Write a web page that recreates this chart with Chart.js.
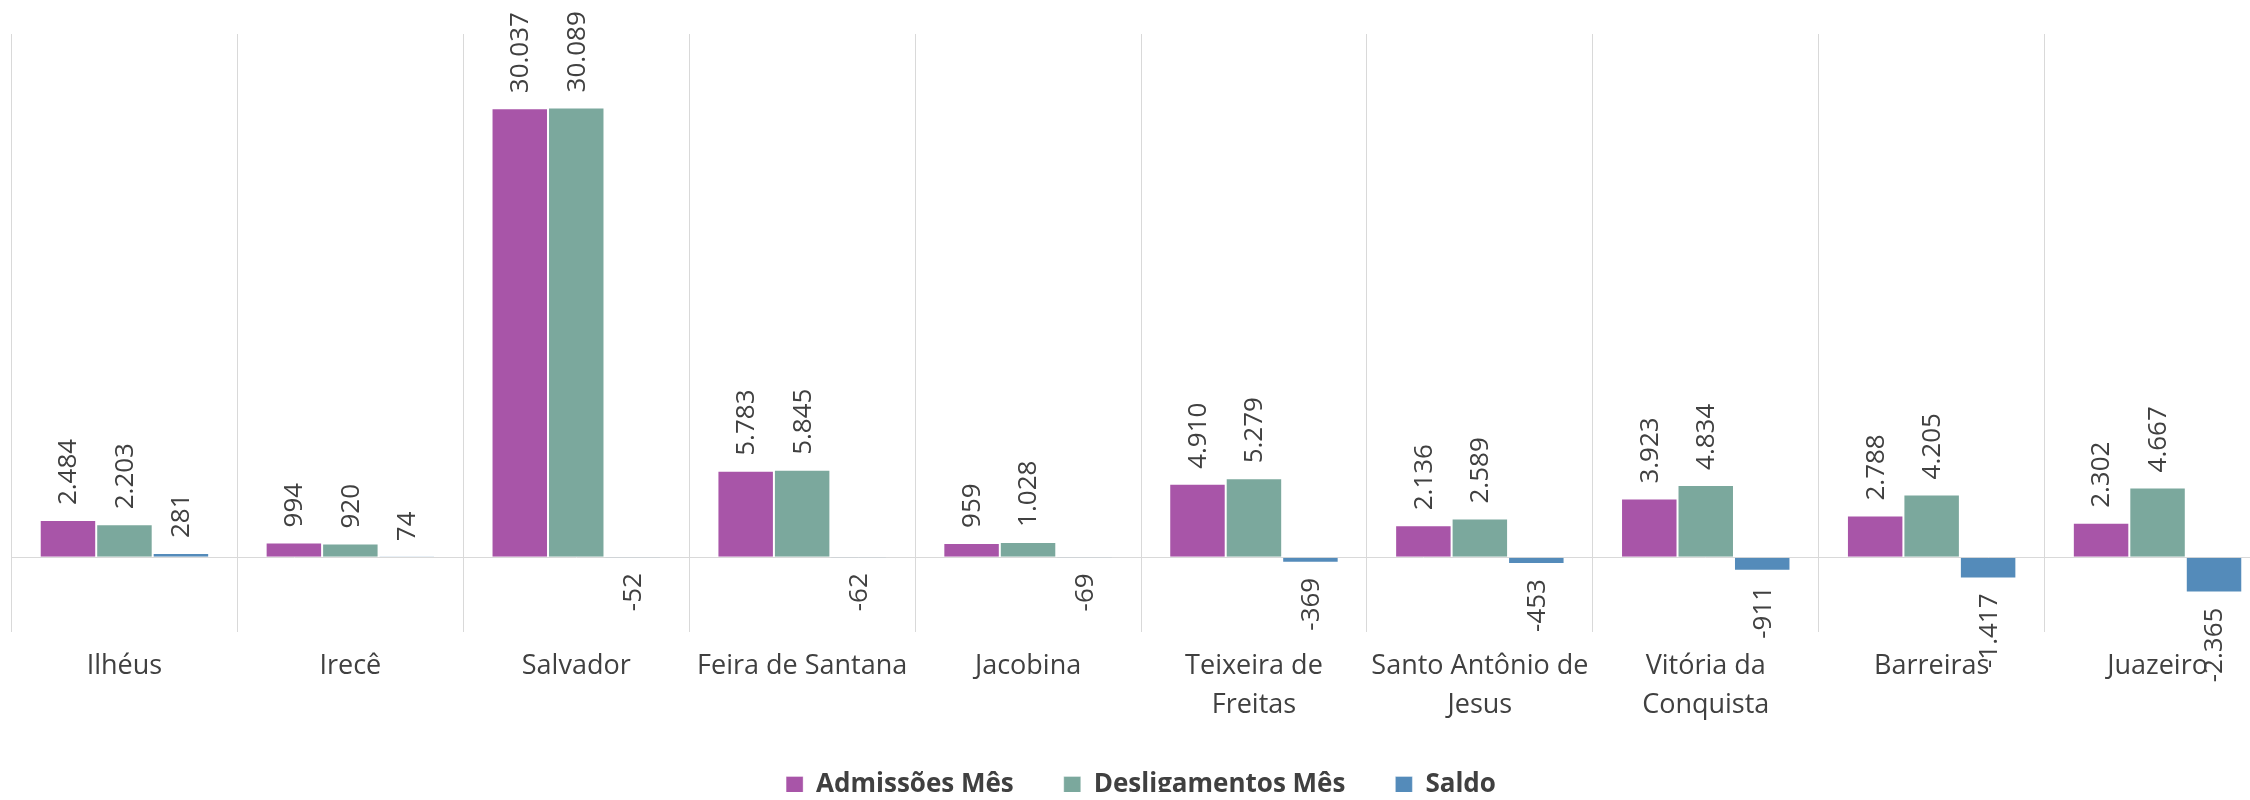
<!DOCTYPE html>
<html lang="pt-BR">
<head>
    <meta charset="UTF-8">
    <title>Admissões e Desligamentos por Município</title>
    <script src="https://cdn.jsdelivr.net/npm/chart.js@4.4.1/dist/chart.umd.min.js"></script>
    <style>
        body {
            margin: 0;
            background: #ffffff;
            overflow: hidden;
        }
        .chart-box {
            width: 2272px;
            height: 800px;
        }
    </style>
</head>
<body>
    <div class="chart-box">
        <canvas id="cagedChart"></canvas>
    </div>

    <script>
        const municipios = [
            'Ilhéus', 'Irecê', 'Salvador', 'Feira de Santana', 'Jacobina',
            ['Teixeira de', 'Freitas'], ['Santo Antônio de', 'Jesus'],
            ['Vitória da', 'Conquista'], 'Barreiras', 'Juazeiro'
        ];
        const admissoes = [2484, 994, 30037, 5783, 959, 4910, 2136, 3923, 2788, 2302];
        const desligamentos = [2203, 920, 30089, 5845, 1028, 5279, 2589, 4834, 4205, 4667];
        const saldo = [281, 74, -52, -62, -69, -369, -453, -911, -1417, -2365];

        const textColor = '#404040';
        const gridColor = '#d9d9d9';

        // formato brasileiro: 30.037
        function fmt(v) {
            const s = String(Math.abs(v)).replace(/\B(?=(\d{3})+(?!\d))/g, '.');
            return (v < 0 ? '-' : '') + s;
        }

        // rótulos de dados girados 90°, como no Excel
        const rotatedLabels = {
            id: 'rotatedLabels',
            afterDatasetsDraw(chart) {
                const ctx = chart.ctx;
                ctx.save();
                ctx.font = '26px "Open Sans"';
                ctx.fillStyle = textColor;
                ctx.textBaseline = 'middle';
                chart.data.datasets.forEach((ds, i) => {
                    const meta = chart.getDatasetMeta(i);
                    meta.data.forEach((bar, j) => {
                        const v = ds.data[j];
                        const gap = 15;
                        ctx.save();
                        if (v >= 0) {
                            ctx.translate(bar.x + 1, bar.y - gap);
                            ctx.rotate(-Math.PI / 2);
                            ctx.textAlign = 'left';
                        } else {
                            ctx.translate(bar.x + 1, bar.y + gap);
                            ctx.rotate(-Math.PI / 2);
                            ctx.textAlign = 'right';
                        }
                        ctx.fillText(fmt(v), 0, 0);
                        ctx.restore();
                    });
                });
                ctx.restore();
            }
        };

        // legenda com altura fixa, para a área do gráfico descer até onde está no original
        const legendHeight = {
            id: 'legendHeight',
            beforeLayout(chart) {
                const lg = chart.legend;
                if (lg && !lg._fixedFit) {
                    const fit = lg.fit;
                    lg.fit = function () {
                        fit.call(this);
                        this.height = 70;
                    };
                    lg._fixedFit = true;
                }
            }
        };

        Chart.defaults.font.family = '"Open Sans", sans-serif';
        Chart.defaults.color = textColor;

        const ctx = document.getElementById('cagedChart').getContext('2d');
        new Chart(ctx, {
            type: 'bar',
            data: {
                labels: municipios,
                datasets: [{
                    label: 'Admissões Mês',
                    data: admissoes,
                    backgroundColor: '#a855a8',
                    borderColor: 'rgba(255,255,255,0.35)',
                    borderWidth: 1
                }, {
                    label: 'Desligamentos Mês',
                    data: desligamentos,
                    backgroundColor: '#7ba89d',
                    borderColor: 'rgba(255,255,255,0.35)',
                    borderWidth: 1
                }, {
                    label: 'Saldo',
                    data: saldo,
                    backgroundColor: '#548bba',
                    borderColor: 'rgba(255,255,255,0.35)',
                    borderWidth: 1
                }]
            },
            options: {
                responsive: true,
                maintainAspectRatio: false,
                animation: false,
                categoryPercentage: 0.75,
                barPercentage: 1.0,
                layout: {
                    padding: { top: 34, left: 11.5, right: 1.5, bottom: 8 }
                },
                plugins: {
                    legend: {
                        position: 'bottom',
                        labels: {
                            boxWidth: 17,
                            boxHeight: 17,
                            padding: 50,
                            color: textColor,
                            font: { size: 26, weight: 'bold' }
                        }
                    },
                    tooltip: { enabled: false }
                },
                scales: {
                    x: {
                        afterFit(scale) { scale.height = 90; },
                        grid: {
                            color: gridColor,
                            drawTicks: false
                        },
                        border: { display: false },
                        ticks: {
                            color: textColor,
                            font: { size: 27, lineHeight: 1.45 },
                            padding: 15,
                            maxRotation: 0,
                            minRotation: 0,
                            autoSkip: false
                        }
                    },
                    y: {
                        min: -5000,
                        max: 35000,
                        afterFit(scale) { scale.width = 0; },
                        grid: {
                            drawTicks: false,
                            color: c => c.tick && c.tick.value === 0 ? gridColor : 'rgba(0,0,0,0)'
                        },
                        border: { display: false },
                        ticks: { display: false, stepSize: 5000 }
                    }
                }
            },
            plugins: [rotatedLabels, legendHeight]
        });
    </script>
</body>
</html>
